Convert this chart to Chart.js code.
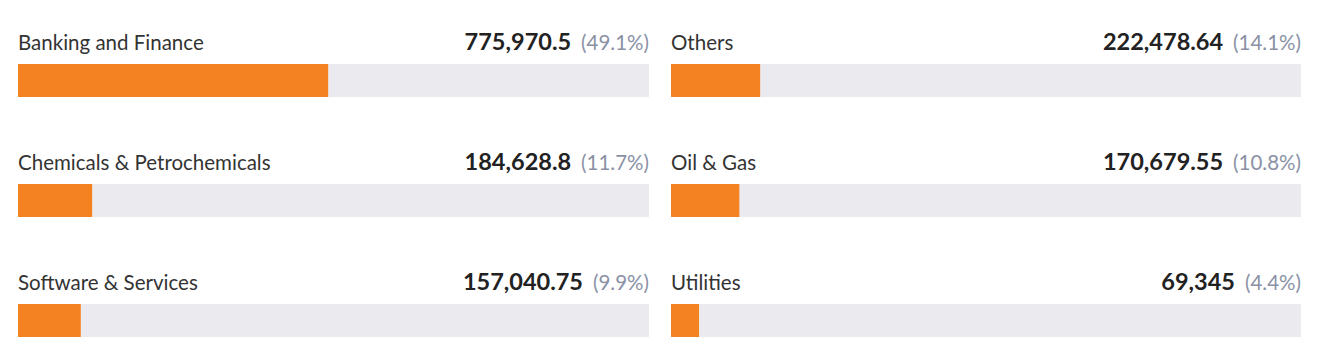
<!DOCTYPE html>
<html>
<head>
<meta charset="utf-8">
<script src="https://cdn.jsdelivr.net/npm/chart.js@4"></script>
<style>
  html, body { margin: 0; padding: 0; background: #ffffff; }
  body { width: 1339px; height: 352px; overflow: hidden; font-family: Lato, "Open Sans", sans-serif; }
  #grid {
    position: absolute; left: 18px; top: 29px;
    display: grid;
    grid-template-columns: 631px 630px;
    column-gap: 22px;
    row-gap: 52px;
  }
  .cell { width: 100%; }
  .head { display: flex; justify-content: space-between; align-items: baseline; height: 35px; }
  .label { font-size: 20.5px; line-height: 24px; color: #333333; }
  .right { white-space: nowrap; }
  .value { font-size: 23.5px; line-height: 24px; font-weight: 700; color: #222222; }
  .pct { font-size: 20.5px; line-height: 24px; color: #8a91a5; margin-left: 10px; }
  .bar { position: relative; height: 33px; width: 100%; }
</style>
</head>
<body>
<div id="grid"></div>
<script>
const categories = ["Banking and Finance", "Others", "Chemicals & Petrochemicals", "Oil & Gas", "Software & Services", "Utilities"];
const values = [775970.5, 222478.64, 184628.8, 170679.55, 157040.75, 69345];
const percents = [49.1, 14.1, 11.7, 10.8, 9.9, 4.4];

const fillColor = "#f58220";
const trackColor = "#ebeaef";

const grid = document.getElementById("grid");
categories.forEach((cat, i) => {
  const cell = document.createElement("div");
  cell.className = "cell";
  const head = document.createElement("div");
  head.className = "head";
  const lab = document.createElement("span");
  lab.className = "label";
  lab.textContent = cat;
  const right = document.createElement("span");
  right.className = "right";
  const val = document.createElement("span");
  val.className = "value";
  val.textContent = values[i].toLocaleString("en-US", { maximumFractionDigits: 2 });
  const pct = document.createElement("span");
  pct.className = "pct";
  pct.textContent = "(" + percents[i].toFixed(1) + "%)";
  right.appendChild(val);
  right.appendChild(pct);
  head.appendChild(lab);
  head.appendChild(right);
  const barWrap = document.createElement("div");
  barWrap.className = "bar";
  const canvas = document.createElement("canvas");
  barWrap.appendChild(canvas);
  cell.appendChild(head);
  cell.appendChild(barWrap);
  grid.appendChild(cell);

  new Chart(canvas, {
    type: "bar",
    data: {
      labels: [cat],
      datasets: [
        { data: [percents[i]], backgroundColor: fillColor, borderWidth: 0 },
        { data: [100 - percents[i]], backgroundColor: trackColor, borderWidth: 0 }
      ]
    },
    options: {
      indexAxis: "y",
      responsive: true,
      maintainAspectRatio: false,
      animation: false,
      events: [],
      layout: { padding: 0 },
      datasets: { bar: { barPercentage: 1, categoryPercentage: 1 } },
      plugins: { legend: { display: false }, tooltip: { enabled: false } },
      scales: {
        x: { stacked: true, min: 0, max: 100, display: false },
        y: { stacked: true, display: false }
      }
    }
  });
});
</script>
</body>
</html>
